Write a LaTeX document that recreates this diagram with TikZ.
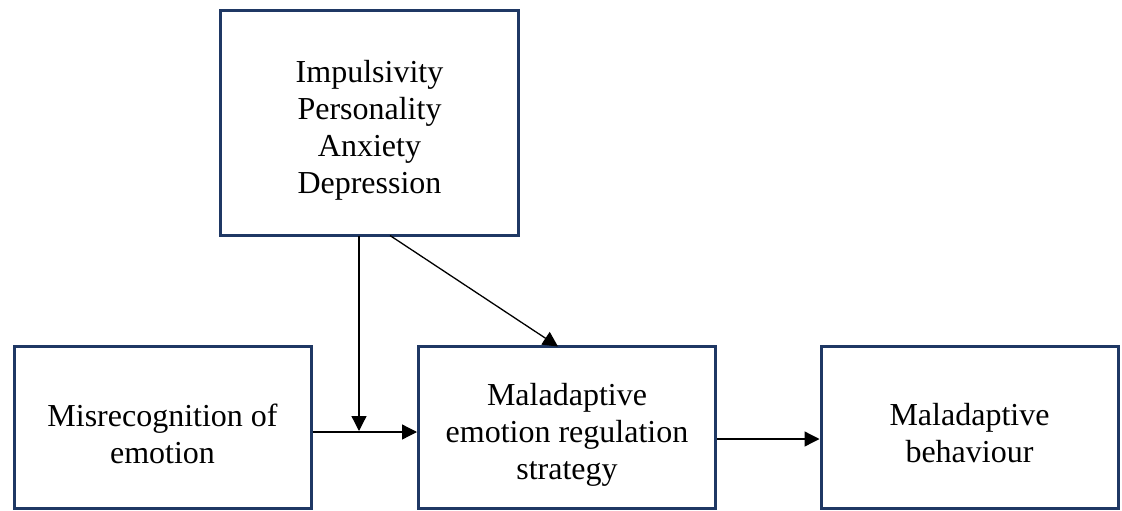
\documentclass[tikz,border=0pt]{standalone}
\usepackage{fontspec}
\setmainfont{Liberation Serif}
\usetikzlibrary{arrows.meta}
\definecolor{boxnavy}{HTML}{1F3864}
\begin{document}
\begin{tikzpicture}[x=1pt,y=-1pt,
  box/.style={draw=boxnavy,line width=3pt,fill=white,minimum width=297pt,minimum height=162pt,inner sep=0pt},
  txt/.style={align=center,inner sep=0pt,font=\fontsize{32}{37}\selectfont},
  conn/.style={draw=black,line width=1.3pt,-{Triangle[length=15pt,width=15pt]}}]
\useasboundingbox (0,0) rectangle (1122,511);
\node[box,minimum width=298pt,minimum height=225pt] (top) at (369.5,123) {};
\node[box] (left) at (162.5,427.5) {};
\node[box] (mid) at (567,427.5) {};
\node[box] (right) at (969.5,427) {};
\node[txt] (toptxt) at ([yshift=-7pt]top.center) {Impulsivity\\Personality\\Anxiety\\Depression};
\node[txt] (lefttxt) at ([yshift=-6pt]left.center) {Misrecognition of\\emotion};
\node[txt] (midtxt) at ([yshift=-7pt]mid.center) {Maladaptive\\emotion regulation\\strategy};
\node[txt] (righttxt) at ([yshift=-6pt]right.center) {Maladaptive\\behaviour};
\coordinate (vs) at (359,235.5);
\coordinate (vj) at (359,431);
\coordinate (ds) at (390,235.5);
\coordinate (de) at (558,346.5);
\draw[conn] (vs) -- (vj);
\draw[conn] (ds) -- (de);
\draw[conn] (left.east |- 0,432) -- (mid.west |- 0,432);
\draw[conn] (mid.east |- 0,439) -- (right.west |- 0,439);
\end{tikzpicture}
\end{document}
